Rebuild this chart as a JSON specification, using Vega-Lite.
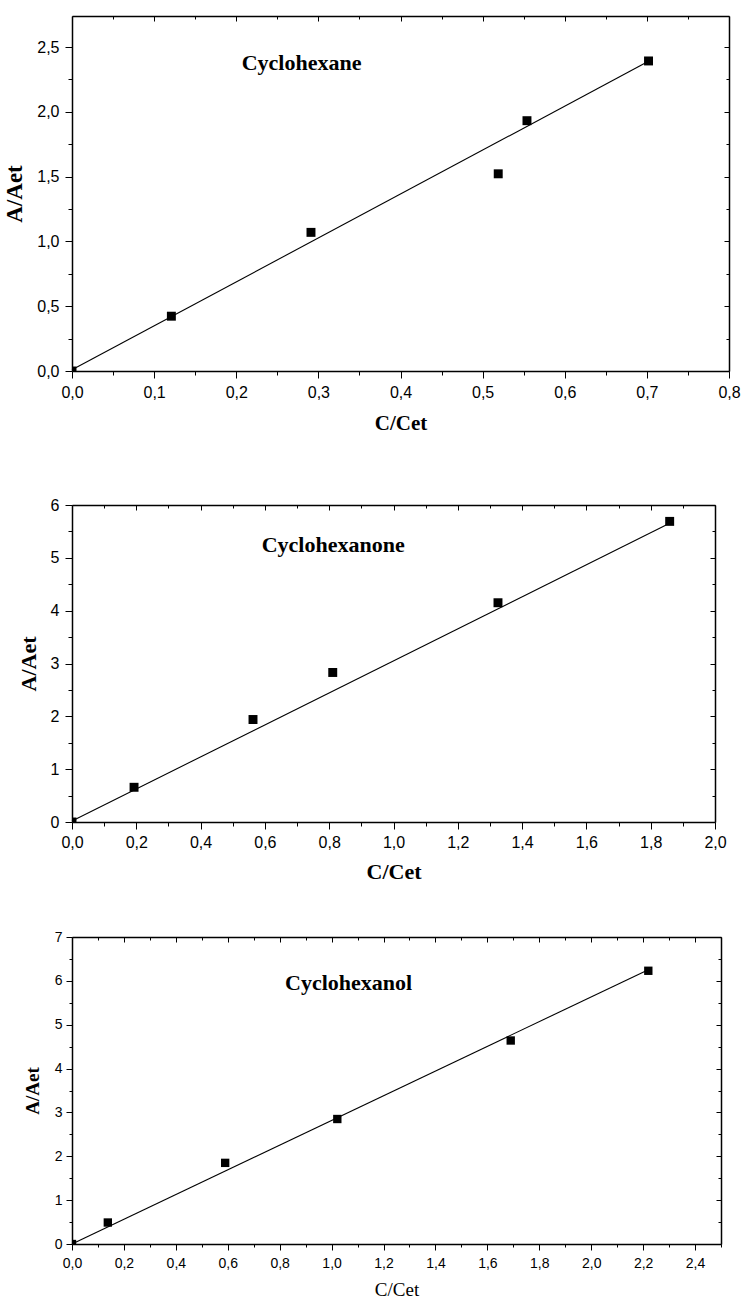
{
  "$schema": "https://vega.github.io/schema/vega-lite/v6.json",
  "padding": {"left": 3, "top": 15, "right": 0, "bottom": 0},
  "background": "white",
  "spacing": 48,
  "datasets": {
    "p1": [{"x": 0, "y": 0}, {"x": 0.121, "y": 0.423}, {"x": 0.291, "y": 1.07}, {"x": 0.519, "y": 1.522}, {"x": 0.554, "y": 1.932}, {"x": 0.702, "y": 2.393}],
    "l1": [{"x": 0, "y": 0.01}, {"x": 0.702, "y": 2.39}],
    "p2": [{"x": 0, "y": 0}, {"x": 0.193, "y": 0.657}, {"x": 0.563, "y": 1.94}, {"x": 0.811, "y": 2.83}, {"x": 1.325, "y": 4.15}, {"x": 1.859, "y": 5.69}],
    "l2": [{"x": 0, "y": 0.02}, {"x": 1.848, "y": 5.62}],
    "p3": [{"x": 0, "y": 0}, {"x": 0.138, "y": 0.49}, {"x": 0.59, "y": 1.85}, {"x": 1.022, "y": 2.85}, {"x": 1.69, "y": 4.64}, {"x": 2.22, "y": 6.23}],
    "l3": [{"x": 0, "y": 0}, {"x": 2.208, "y": 6.22}]
  },
  "vconcat": [
    {
      "width": 657,
      "height": 355,
      "layer": [
        {
          "data": {"name": "l1"},
          "mark": {"type": "line", "color": "black", "strokeWidth": 1.1},
          "encoding": {
            "x": {"field": "x", "type": "quantitative", "scale": {"domain": [0, 0.8], "nice": false, "zero": false},
              "axis": {"orient": "top", "labels": false, "title": null, "values": [0,0.05,0.1,0.15,0.2,0.25,0.3,0.35,0.4,0.45,0.5,0.55,0.6,0.65,0.7,0.75,0.8],
                "tickSize": {"condition": {"test": "abs(datum.value*10 - round(datum.value*10)) > 0.001", "value": -3}, "value": -5}}},
            "y": {"field": "y", "type": "quantitative", "scale": {"domain": [0, 2.74], "nice": false, "zero": false},
              "axis": {"orient": "right", "labels": false, "title": null, "values": [0,0.25,0.5,0.75,1,1.25,1.5,1.75,2,2.25,2.5],
                "tickSize": {"condition": {"test": "abs(datum.value*2 - round(datum.value*2)) > 0.001", "value": -3}, "value": -5}}}
          }
        },
        {
          "data": {"name": "p1"},
          "mark": {"type": "point", "shape": "square", "filled": true, "color": "black", "size": 80, "opacity": 1, "clip": true},
          "encoding": {
            "x": {"field": "x", "type": "quantitative",
              "axis": {"orient": "bottom", "title": "C/Cet", "values": [0,0.05,0.1,0.15,0.2,0.25,0.3,0.35,0.4,0.45,0.5,0.55,0.6,0.65,0.7,0.75,0.8],
                "labelExpr": "abs(datum.value*10 - round(datum.value*10)) > 0.001 ? '' : replace(format(datum.value, '.1f'), '.', ',')",
                "tickSize": {"condition": {"test": "abs(datum.value*10 - round(datum.value*10)) > 0.001", "value": 4}, "value": 7},
                "labelFontSize": 16, "labelPadding": 6, "titleFontSize": 21, "titleFontWeight": "bold", "titlePadding": 12}},
            "y": {"field": "y", "type": "quantitative",
              "axis": {"orient": "left", "title": "A/Aet", "values": [0,0.25,0.5,0.75,1,1.25,1.5,1.75,2,2.25,2.5],
                "labelExpr": "abs(datum.value*2 - round(datum.value*2)) > 0.001 ? '' : replace(format(datum.value, '.1f'), '.', ',')",
                "tickSize": {"condition": {"test": "abs(datum.value*2 - round(datum.value*2)) > 0.001", "value": 4}, "value": 7},
                "labelFontSize": 16, "labelPadding": 6, "titleFontSize": 23, "titleFontWeight": "bold", "titlePadding": 10}}
          }
        },
        {
          "data": {"values": [{"label": "Cyclohexane"}]},
          "mark": {"type": "text", "align": "left", "baseline": "alphabetic", "font": "Liberation Serif", "fontWeight": "bold", "fontSize": 22, "color": "black"},
          "encoding": {
            "x": {"datum": 0.2066, "type": "quantitative", "axis": null},
            "y": {"datum": 2.32, "type": "quantitative", "axis": null},
            "text": {"field": "label"}
          }
        }
      ],
      "resolve": {"axis": {"x": "independent", "y": "independent"}}
    },
    {
      "width": 643,
      "height": 317,
      "title": {"text": " ", "fontSize": 2, "offset": 14},
      "layer": [
        {
          "data": {"name": "l2"},
          "mark": {"type": "line", "color": "black", "strokeWidth": 1.1},
          "encoding": {
            "x": {"field": "x", "type": "quantitative", "scale": {"domain": [0, 2], "nice": false, "zero": false},
              "axis": {"orient": "top", "labels": false, "title": null, "values": [0,0.1,0.2,0.3,0.4,0.5,0.6,0.7,0.8,0.9,1,1.1,1.2,1.3,1.4,1.5,1.6,1.7,1.8,1.9,2],
                "tickSize": {"condition": {"test": "abs(datum.value*5 - round(datum.value*5)) > 0.001", "value": -3}, "value": -5}}},
            "y": {"field": "y", "type": "quantitative", "scale": {"domain": [0, 6], "nice": false, "zero": false},
              "axis": {"orient": "right", "labels": false, "title": null, "values": [0,0.5,1,1.5,2,2.5,3,3.5,4,4.5,5,5.5,6],
                "tickSize": {"condition": {"test": "abs(datum.value - round(datum.value)) > 0.001", "value": -3}, "value": -5}}}
          }
        },
        {
          "data": {"name": "p2"},
          "mark": {"type": "point", "shape": "square", "filled": true, "color": "black", "size": 80, "opacity": 1, "clip": true},
          "encoding": {
            "x": {"field": "x", "type": "quantitative",
              "axis": {"orient": "bottom", "title": "C/Cet", "values": [0,0.1,0.2,0.3,0.4,0.5,0.6,0.7,0.8,0.9,1,1.1,1.2,1.3,1.4,1.5,1.6,1.7,1.8,1.9,2],
                "labelExpr": "abs(datum.value*5 - round(datum.value*5)) > 0.001 ? '' : replace(format(datum.value, '.1f'), '.', ',')",
                "tickSize": {"condition": {"test": "abs(datum.value*5 - round(datum.value*5)) > 0.001", "value": 4}, "value": 7},
                "labelFontSize": 16, "labelPadding": 5, "titleFontSize": 22, "titleFontWeight": "bold", "titlePadding": 11}},
            "y": {"field": "y", "type": "quantitative",
              "axis": {"orient": "left", "title": "A/Aet", "values": [0,0.5,1,1.5,2,2.5,3,3.5,4,4.5,5,5.5,6],
                "labelExpr": "abs(datum.value - round(datum.value)) > 0.001 ? '' : format(datum.value, 'd')",
                "tickSize": {"condition": {"test": "abs(datum.value - round(datum.value)) > 0.001", "value": 4}, "value": 7},
                "labelFontSize": 16, "labelPadding": 6, "titleFontSize": 22, "titleFontWeight": "bold", "titlePadding": 10}}
          }
        },
        {
          "data": {"values": [{"label": "Cyclohexanone"}]},
          "mark": {"type": "text", "align": "left", "baseline": "alphabetic", "font": "Liberation Serif", "fontWeight": "bold", "fontSize": 22, "color": "black"},
          "encoding": {
            "x": {"datum": 0.59, "type": "quantitative", "axis": null},
            "y": {"datum": 5.11, "type": "quantitative", "axis": null},
            "text": {"field": "label"}
          }
        }
      ],
      "resolve": {"axis": {"x": "independent", "y": "independent"}}
    },
    {
      "width": 649,
      "height": 307,
      "layer": [
        {
          "data": {"name": "l3"},
          "mark": {"type": "line", "color": "black", "strokeWidth": 1.1},
          "encoding": {
            "x": {"field": "x", "type": "quantitative", "scale": {"domain": [0, 2.5], "nice": false, "zero": false},
              "axis": {"orient": "top", "labels": false, "title": null, "values": [0,0.1,0.2,0.3,0.4,0.5,0.6,0.7,0.8,0.9,1,1.1,1.2,1.3,1.4,1.5,1.6,1.7,1.8,1.9,2,2.1,2.2,2.3,2.4,2.5],
                "tickSize": {"condition": {"test": "abs(datum.value*5 - round(datum.value*5)) > 0.001", "value": -3}, "value": -5}}},
            "y": {"field": "y", "type": "quantitative", "scale": {"domain": [0, 7], "nice": false, "zero": false},
              "axis": {"orient": "right", "labels": false, "title": null, "values": [0,0.5,1,1.5,2,2.5,3,3.5,4,4.5,5,5.5,6,6.5,7],
                "tickSize": {"condition": {"test": "abs(datum.value - round(datum.value)) > 0.001", "value": -3}, "value": -5}}}
          }
        },
        {
          "data": {"name": "p3"},
          "mark": {"type": "point", "shape": "square", "filled": true, "color": "black", "size": 70, "opacity": 1, "clip": true},
          "encoding": {
            "x": {"field": "x", "type": "quantitative",
              "axis": {"orient": "bottom", "title": "C/Cet", "values": [0,0.1,0.2,0.3,0.4,0.5,0.6,0.7,0.8,0.9,1,1.1,1.2,1.3,1.4,1.5,1.6,1.7,1.8,1.9,2,2.1,2.2,2.3,2.4,2.5],
                "labelExpr": "abs(datum.value*5 - round(datum.value*5)) > 0.001 ? '' : replace(format(datum.value, '.1f'), '.', ',')",
                "tickSize": {"condition": {"test": "abs(datum.value*5 - round(datum.value*5)) > 0.001", "value": 3}, "value": 6},
                "labelFontSize": 14, "labelPadding": 6, "titleFontSize": 19, "titleFontWeight": "normal", "titlePadding": 10}},
            "y": {"field": "y", "type": "quantitative",
              "axis": {"orient": "left", "title": "A/Aet", "values": [0,0.5,1,1.5,2,2.5,3,3.5,4,4.5,5,5.5,6,6.5,7],
                "labelExpr": "abs(datum.value - round(datum.value)) > 0.001 ? '' : format(datum.value, 'd')",
                "tickSize": {"condition": {"test": "abs(datum.value - round(datum.value)) > 0.001", "value": 3}, "value": 6},
                "labelFontSize": 14, "labelPadding": 4, "titleFontSize": 19, "titleFontWeight": "bold", "titlePadding": 12}}
          }
        },
        {
          "data": {"values": [{"label": "Cyclohexanol"}]},
          "mark": {"type": "text", "align": "left", "baseline": "alphabetic", "font": "Liberation Serif", "fontWeight": "bold", "fontSize": 22, "color": "black"},
          "encoding": {
            "x": {"datum": 0.8205, "type": "quantitative", "axis": null},
            "y": {"datum": 5.79, "type": "quantitative", "axis": null},
            "text": {"field": "label"}
          }
        }
      ],
      "resolve": {"axis": {"x": "independent", "y": "independent"}}
    }
  ],
  "config": {
    "view": {"stroke": null},
    "axis": {
      "grid": false,
      "domainColor": "black",
      "domainWidth": 1.5,
      "tickColor": "black",
      "tickWidth": 1,
      "labelColor": "black",
      "labelFont": "Liberation Sans",
      "titleFont": "Liberation Serif",
      "titleColor": "black",
      "labelOverlap": false,
      "labelFlush": false
    }
  }
}
